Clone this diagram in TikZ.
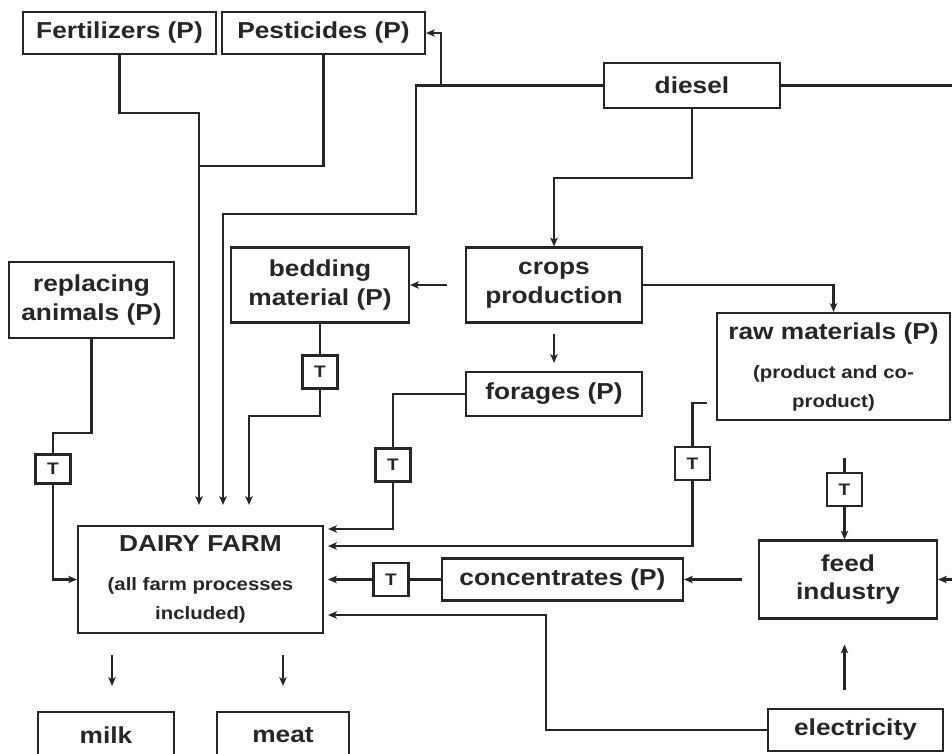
\documentclass[tikz,border=0pt]{standalone}
\usepackage{fontspec}
\setmainfont{Liberation Sans}[FakeStretch=1.14]
\usetikzlibrary{arrows.meta,calc}
\definecolor{ink}{HTML}{262626}
\newcommand{\smalltxt}{\fontsize{13.4}{16.5}\selectfont}

\begin{document}
\begin{tikzpicture}[x=0.75pt,y=-0.75pt,line width=1.6pt,color=ink,
  box/.style={draw,align=center,inner sep=0pt,font=\fontsize{17.3}{21.5}\selectfont\bfseries},
  tbox/.style={draw,inner sep=0pt,minimum width=26.25pt,minimum height=24.75pt,font=\fontsize{12.5}{14}\selectfont\bfseries},
  sz/.style 2 args={minimum width=#1*0.75pt,minimum height=#2*0.75pt},
  arr/.style={-{Stealth[length=6.5pt,width=5.5pt,inset=1.5pt]}}]
\useasboundingbox (0,0) rectangle (952,753);
\clip (0,0) rectangle (952,753);

\node[box,sz={193}{42}] (fert) at (119.5,33) {Fertilizers (P)};
\node[box,sz={203}{42}] (pest) at (323.5,33) {Pesticides (P)};
\node[box,sz={176}{45}] (diesel) at (692,85.5) {diesel};
\node[box,sz={176}{75}] (crops) at (554,285) {crops\\production};
\node[box,sz={178}{75}] (bedding) at (320,285) {bedding\\material (P)};
\node[box,sz={165}{76}] (replacing) at (91.5,300) {replacing\\animals (P)};
\node[box,sz={176}{44}] (forages) at (554,394) {forages (P)};
\node[box,sz={233}{107}] (raw) at (833.5,366.5) {raw materials (P)\\[8pt]\smalltxt (product and co-\\\smalltxt product)};
\node[box,sz={245}{107}] (dairy) at (200.5,579.5) {DAIRY FARM\\[8pt]\smalltxt (all farm processes\\\smalltxt included)};
\node[box,sz={241}{42}] (conc) at (562.5,579.5) {concentrates (P)};
\node[box,sz={178}{78}] (feed) at (848,579.5) {feed\\industry};
\node[box,sz={175}{42}] (elec) at (855.5,730) {electricity};
\node[box,sz={136}{46}] (milk) at (106,735) {milk};
\node[box,sz={132}{46}] (meat) at (283,735) {meat};

\node[tbox,sz={35}{29}] (t1) at (53,469) {T};
\node[tbox] (t2) at (320,372) {T};
\node[tbox] (t3) at (393,465) {T};
\node[tbox] (t4) at (692.5,463.5) {T};
\node[tbox] (t5) at (844.5,489.5) {T};
\node[tbox] (t6) at (391,579.5) {T};

\coordinate (merge) at (199,166);
\coordinate (split) at (441,85.5);

% inputs from the top
\draw (fert.south) -- ++(0,58) -| (merge);
\draw (pest.south) |- (merge);
\draw[arr,shorten >=15pt] (merge) -- (merge |- dairy.north);
\draw[arr,shorten >=15pt] (diesel.west) -| (416,214) -| (223,0 |- dairy.north);
\draw[arr] (split) |- (pest.east);
\draw[arr] (diesel.south) -- ++(0,68.5) -| (crops.north);
\draw[arr] (diesel.east) -- ++(200,0) |- (feed.east);

% crops
\draw[arr,shorten <=13.5pt] (crops.west) -- (bedding.east);
\draw[arr,shorten <=7.5pt,shorten >=6pt] (crops.south) -- (forages.north);
\draw[arr] (crops.east) -| (raw.north);

% transport to the farm
\draw (bedding.south) -- (t2.north);
\draw[arr,shorten >=15pt] (t2.south) -- ++(0,26) -| (249,0 |- dairy.north);
\draw (replacing.south) -- ++(0,94) -| (t1.north);
\draw[arr] (t1.south) |- (dairy.west);
\draw (forages.west) -| (t3.north);
\draw[arr,shorten >=3pt] (t3.south) |- (dairy.east |- 0,529);
\draw ($(raw.south west)+(-9,-18)$) -| (t4.north);
\draw[arr,shorten >=3pt] (t4.south) |- (dairy.east |- 0,546);
\draw[shorten <=27.75pt] (t5.north |- raw.south) -- (t5.north);
\draw[arr] (t5.south) -- (t5.south |- feed.north);
\draw[arr,shorten <=12pt] (feed.west) -- (conc.east);
\draw (conc.west) -- (t6.east);
\draw[arr,shorten >=3pt] (t6.west) -- (t6.west -| dairy.east);

% electricity
\draw[arr,shorten >=3pt] (elec.west) -- ++(-221,0) |- (dairy.east |- 0,615);
\draw[arr,shorten <=13.5pt,shorten >=18.75pt] (elec.north -| t5.south) -- (feed.south -| t5.south);

% outputs
\draw[arr,shorten <=15.75pt,shorten >=18.75pt] (112,0 |- dairy.south) -- (112,0 |- milk.north);
\draw[arr,shorten <=15.75pt,shorten >=18.75pt] (dairy.south -| meat.north) -- (meat.north);
\end{tikzpicture}
\end{document}
